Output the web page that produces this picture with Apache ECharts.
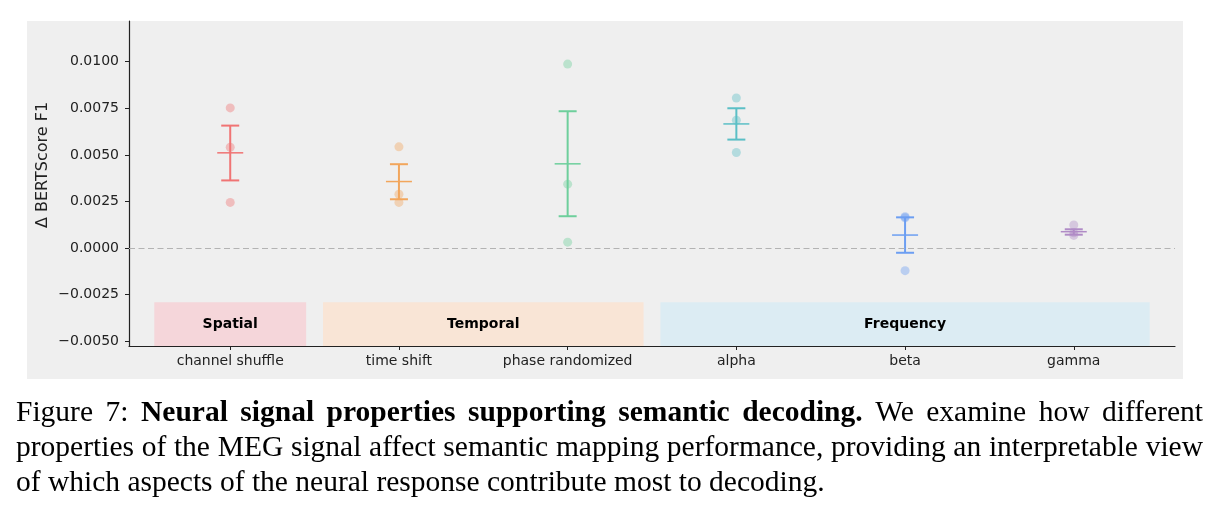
<!DOCTYPE html>
<html>
<head>
<meta charset="utf-8">
<script src="https://cdn.jsdelivr.net/npm/echarts@6/dist/echarts.min.js"></script>
<style>
  html, body { margin: 0; padding: 0; background: #fff; }
  #chart { width: 1220px; height: 514px; }
</style>
</head>
<body>
<div id="chart"></div>
<script>
// data
const categories = ['channel shuffle', 'time shift', 'phase randomized', 'alpha', 'beta', 'gamma'];
const colors = ['#F07474', '#F2A65C', '#6ECF9C', '#5BBFC6', '#6C9EF2', '#B08BC6'];
const runValues = [
  [0.00752, 0.00541, 0.00245],
  [0.00543, 0.00289, 0.00245],
  [0.00987, 0.00343, 0.00032],
  [0.00805, 0.00686, 0.00513],
  [0.00168, 0.00163, -0.00121],
  [0.00124, 0.00082, 0.00068]
];
const means = [0.00511, 0.00357, 0.00452, 0.00666, 0.00070, 0.00088];
const errLow = [0.00363, 0.00262, 0.00171, 0.00582, -0.00025, 0.00072];
const errHigh = [0.00657, 0.00450, 0.00734, 0.00750, 0.00165, 0.00101];
const groupNames = ['Spatial', 'Temporal', 'Frequency'];
const groupFrom = [-0.45, 0.55, 2.55];
const groupTo = [0.45, 2.45, 5.45];
const groupColors = ['#F5D6DA', '#F9E5D6', '#DCECF3'];
const groupTop = -0.0029;
const yTicks = [-0.005, -0.0025, 0, 0.0025, 0.005, 0.0075, 0.01];
const yMin = -0.00525, yMax = 0.01218;

const captionLines = [
  [['Figure', 0], ['7:', 0], ['Neural', 1], ['signal', 1], ['properties', 1], ['supporting', 1],
   ['semantic', 1], ['decoding.', 1], ['We', 0], ['examine', 0], ['how', 0], ['different', 0]],
  [['properties', 0], ['of', 0], ['the', 0], ['MEG', 0], ['signal', 0], ['affect', 0], ['semantic', 0],
   ['mapping', 0], ['performance,', 0], ['providing', 0], ['an', 0], ['interpretable', 0], ['view', 0]],
  [['of', 0], ['which', 0], ['aspects', 0], ['of', 0], ['the', 0], ['neural', 0], ['response', 0],
   ['contribute', 0], ['most', 0], ['to', 0], ['decoding.', 0]]
];

var tickFont = '"DejaVu Sans", sans-serif';
var capSize = 29.5;
var capFamily = '"Liberation Serif", "Times New Roman", serif';

// caption words, justified like the LaTeX paragraph
function captionGraphics() {
  const ctx = document.createElement('canvas').getContext('2d');
  const x0 = 16, x1 = 1203;
  const ys = [413, 448, 483];
  const out = [];
  captionLines.forEach(function (words, li) {
    const fonts = words.map(function (w) {
      return (w[1] ? 'bold ' : '') + capSize + 'px ' + capFamily;
    });
    const widths = words.map(function (w, i) {
      ctx.font = fonts[i];
      return ctx.measureText(w[0]).width;
    });
    ctx.font = capSize + 'px ' + capFamily;
    let gap = ctx.measureText(' ').width;
    const total = widths.reduce(function (a, b) { return a + b; }, 0);
    if (li < captionLines.length - 1) gap = (x1 - x0 - total) / (words.length - 1);
    let x = x0;
    words.forEach(function (w, i) {
      out.push({
        type: 'text', x: x, y: ys[li], z: 10,
        style: {
          text: w[0], fill: '#000', font: fonts[i],
          textAlign: 'left', textVerticalAlign: 'middle'
        }
      });
      x += widths[i] + gap;
    });
  });
  return out;
}

const chart = echarts.init(document.getElementById('chart'));

const scatterData = [];
runValues.forEach(function (vals, i) {
  vals.forEach(function (v) {
    scatterData.push({ value: [i, v], itemStyle: { color: colors[i] } });
  });
});
const errData = means.map(function (m, i) { return [i, m, errLow[i], errHigh[i]]; });
const groupData = groupNames.map(function (n, i) { return [groupFrom[i], groupTo[i], i]; });

var option = {
  backgroundColor: '#ffffff',
  animation: false,
  grid: { left: 129, right: 45, top: 21, bottom: 168 },
  xAxis: {
    type: 'value',
    min: -0.6,
    max: 5.6,
    axisLine: { onZero: false, lineStyle: { color: '#222', width: 1.2 } },
    axisTick: { show: true, length: 4, customValues: [0, 1, 2, 3, 4, 5], lineStyle: { color: '#222' } },
    axisLabel: {
      customValues: [0, 1, 2, 3, 4, 5],
      margin: 8,
      color: '#222',
      fontFamily: tickFont,
      fontSize: 14,
      formatter: function (v) { return categories[Math.round(v)]; }
    },
    splitLine: { show: false }
  },
  yAxis: {
    type: 'value',
    min: yMin,
    max: yMax,
    axisLine: { show: true, onZero: false, lineStyle: { color: '#222', width: 1.2 } },
    axisTick: { show: true, length: 4, customValues: yTicks, lineStyle: { color: '#222' } },
    axisLabel: {
      customValues: yTicks,
      margin: 10,
      color: '#222',
      fontFamily: tickFont,
      fontSize: 14,
      formatter: function (v) {
        if (Math.abs(v) < 1e-12) return '0.0000';
        return (v < 0 ? '\u2212' : '') + Math.abs(v).toFixed(4);
      }
    },
    splitLine: { show: false }
  },
  graphic: [
    {
      type: 'rect', z: -10, silent: true,
      shape: { x: 27, y: 21, width: 1156, height: 358 },
      style: { fill: '#EFEFEF' }
    },
    {
      type: 'text', x: 43, y: 165, rotation: Math.PI / 2, z: 5,
      style: {
        text: '\u0394 BERTScore F1', fill: '#222',
        font: '16px ' + tickFont, textAlign: 'center', textVerticalAlign: 'middle'
      }
    }
  ].concat(captionGraphics()),
  series: [
    {
      // category bands along the bottom
      type: 'custom',
      z: 1,
      silent: true,
      data: groupData,
      renderItem: function (params, api) {
        const p0 = api.coord([api.value(0), groupTop]);
        const p1 = api.coord([api.value(1), yMin]);
        const gi = api.value(2);
        return {
          type: 'group',
          children: [
            {
              type: 'rect',
              shape: { x: p0[0], y: p0[1], width: p1[0] - p0[0], height: p1[1] - p0[1] },
              style: { fill: groupColors[gi] }
            },
            {
              type: 'text',
              x: (p0[0] + p1[0]) / 2,
              y: (p0[1] + p1[1]) / 2,
              style: {
                text: groupNames[gi], fill: '#000',
                font: 'bold 14px ' + tickFont,
                textAlign: 'center', textVerticalAlign: 'middle'
              }
            }
          ]
        };
      }
    },
    {
      type: 'scatter',
      z: 2,
      symbolSize: 9,
      itemStyle: { opacity: 0.4 },
      data: scatterData,
      markLine: {
        silent: true,
        symbol: 'none',
        label: { show: false },
        lineStyle: { color: '#B3B3B3', type: [6, 3.5], width: 1.2 },
        data: [{ yAxis: 0 }]
      }
    },
    {
      // mean +/- sem
      type: 'custom',
      z: 3,
      data: errData,
      renderItem: function (params, api) {
        const x = api.value(0);
        const pm = api.coord([x, api.value(1)]);
        const pl = api.coord([x, api.value(2)]);
        const ph = api.coord([x, api.value(3)]);
        const c = colors[params.dataIndex];
        const st = { stroke: c, lineWidth: 2 };
        return {
          type: 'group',
          children: [
            { type: 'line', shape: { x1: pl[0], y1: pl[1], x2: ph[0], y2: ph[1] }, style: st },
            { type: 'line', shape: { x1: pl[0] - 9, y1: pl[1], x2: pl[0] + 9, y2: pl[1] }, style: st },
            { type: 'line', shape: { x1: ph[0] - 9, y1: ph[1], x2: ph[0] + 9, y2: ph[1] }, style: st },
            { type: 'line', shape: { x1: pm[0] - 13, y1: pm[1], x2: pm[0] + 13, y2: pm[1] }, style: { stroke: c, lineWidth: 1.5 } }
          ]
        };
      }
    }
  ]
};

chart.setOption(option);
</script>
</body>
</html>
